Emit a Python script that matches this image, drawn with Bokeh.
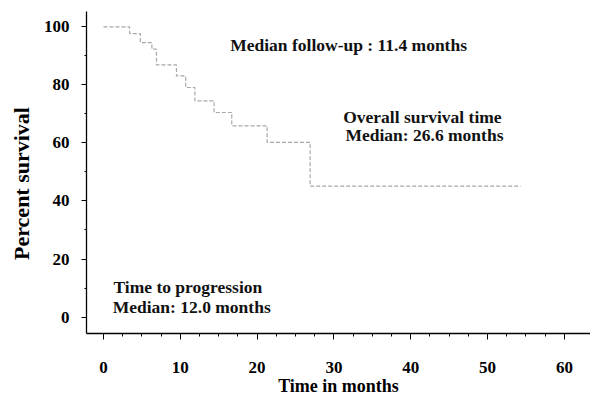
from bokeh.plotting import figure
from bokeh.models import ColumnDataSource, Range1d, FixedTicker
from bokeh.core.properties import value
from bokeh.embed import file_html
from bokeh.resources import INLINE

# Kaplan-Meier step data (months, percent survival)
times = [0, 3.4, 4.8, 6.3, 6.9, 9.5, 10.7, 11.9, 14.4, 16.7, 21.3, 26.9, 54.3]
survival = [100, 97.7, 94.6, 92.3, 86.9, 83.1, 79.1, 74.5, 70.5, 65.9, 60.2, 45.1, 45.1]

x_ticks = [0, 10, 20, 30, 40, 50, 60]
y_ticks = [0, 20, 40, 60, 80, 100]

notes = ["Median follow-up : 11.4 months", "Overall survival time", "Median: 26.6 months",
         "Time to progression", "Median: 12.0 months"]
note_x = [16.5, 31.2, 31.5, 1.3, 1.2]
note_y = [93.6, 68.9, 62.7, 10.5, 3.6]

FONT = "Liberation Serif"

p = figure(width=590, height=398, output_backend="svg", toolbar_location=None,
           x_range=Range1d(-2.21, 63.4), y_range=Range1d(-5.67, 105.3),
           min_border_left=86, min_border_top=11, min_border_right=0, min_border_bottom=64)
p.outline_line_color = None
p.xgrid.visible = False
p.ygrid.visible = False
p.background_fill_color = "white"
p.border_fill_color = "white"

p.step(times, survival, mode="after", line_color="#a8a8a8", line_width=1.2, line_dash="4 2")

src = ColumnDataSource(dict(x=note_x, y=note_y, t=notes))
p.text(x="x", y="y", text="t", source=src, text_font=value(FONT), text_font_style="bold",
       text_font_size="17.5px", text_baseline="middle", text_align="left", text_color="#111111")

for ax in (p.xaxis[0], p.yaxis[0]):
    ax.axis_line_color = "black"
    ax.axis_line_width = 1.3
    ax.major_tick_line_color = "black"
    ax.minor_tick_line_color = "black"
    ax.major_label_text_font = FONT
    ax.major_label_text_font_style = "bold"
    ax.major_label_text_font_size = "17px"
    ax.major_label_text_color = "black"
    ax.axis_label_text_font = FONT
    ax.axis_label_text_font_style = "bold"
    ax.axis_label_text_color = "black"

p.xaxis.ticker = FixedTicker(ticks=x_ticks, minor_ticks=[v * 2.5 for v in range(0, 25)])
p.yaxis.ticker = FixedTicker(ticks=y_ticks, minor_ticks=[v * 10 for v in range(0, 11)])

p.xaxis.axis_label = "Time in months"
p.xaxis.axis_label_text_font_size = "18px"
p.xaxis.major_tick_out = 6
p.xaxis.major_tick_in = 0
p.xaxis.minor_tick_out = 3
p.xaxis.minor_tick_in = 0
p.xaxis.major_label_standoff = 22
p.xaxis.axis_label_standoff = 0

p.yaxis.axis_label = "Percent survival" + "\u00a0" * 4
p.yaxis.axis_label_text_font_size = "22px"
p.yaxis.major_tick_out = 5
p.yaxis.major_tick_in = 0
p.yaxis.minor_tick_out = 2
p.yaxis.minor_tick_in = 0
p.yaxis.major_label_standoff = 12
p.yaxis.axis_label_standoff = 7
p.yaxis.major_label_orientation = "horizontal"

open("out.html", "w").write(file_html(p, INLINE))
